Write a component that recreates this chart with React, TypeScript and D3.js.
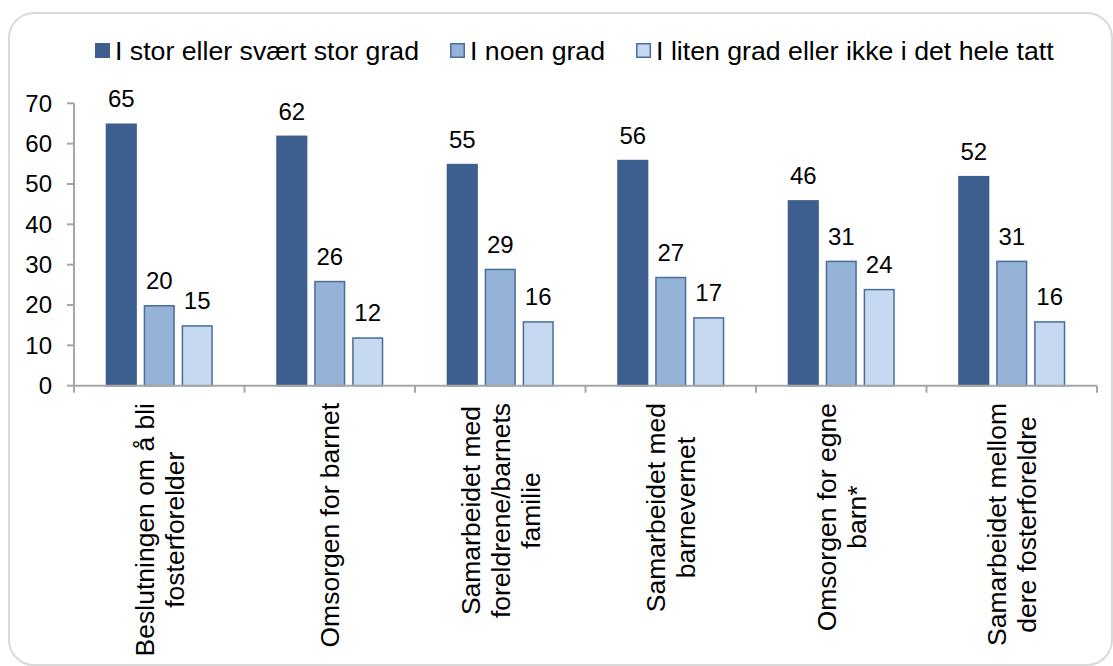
import React from "react";
import * as d3 from "d3";

const categories: string[][] = [
  ["Beslutningen om å bli", "fosterforelder"],
  ["Omsorgen for barnet"],
  ["Samarbeidet med", "foreldrene/barnets", "familie"],
  ["Samarbeidet med", "barnevernet"],
  ["Omsorgen for egne", "barn*"],
  ["Samarbeidet mellom", "dere fosterforeldre"],
];
const seriesNames = [
  "I stor eller svært stor grad",
  "I noen grad",
  "I liten grad eller ikke i det hele tatt",
];
const storGrad = [65, 62, 55, 56, 46, 52];
const noenGrad = [20, 26, 29, 27, 31, 31];
const litenGrad = [15, 12, 16, 17, 24, 16];
const yTicks = [0, 10, 20, 30, 40, 50, 60, 70];

const seriesValues = [storGrad, noenGrad, litenGrad];
const fills = ["#3d5f8f", "#95b3d7", "#c6d9f0"];
const strokes = ["#3d5f8f", "#4a6d9c", "#4a6d9c"];

const W = 1113;
const H = 666;
const FONT = "'Liberation Sans', Arial, sans-serif";

let ctx: CanvasRenderingContext2D | null = null;
function measure(text: string, size: number): number {
  if (!ctx) ctx = document.createElement("canvas").getContext("2d");
  if (!ctx) return text.length * size * 0.5;
  ctx.font = `${size}px 'Liberation Sans', Arial, sans-serif`;
  return ctx.measureText(text).width;
}

export default function App() {
  const left = 74;
  const right = 1097;
  const y0 = 385.7;
  const y70 = 103.3;
  const keys = categories.map((c) => c.join(" "));
  const x0 = d3.scaleBand<string>().domain(keys).range([left, right]).padding(0);
  const groupW = x0.bandwidth() * 0.628;
  const x1 = d3
    .scaleBand<number>()
    .domain([0, 1, 2])
    .range([0, groupW])
    .paddingInner(0.18)
    .paddingOuter(0);
  const y = d3.scaleLinear().domain([0, 70]).range([y0, y70]);

  const legendFont = 26.7;
  const legendItems: { x: number; tx: number; name: string; i: number }[] = [];
  let lx = 95;
  seriesNames.forEach((name, i) => {
    legendItems.push({ x: lx, tx: lx + 20, name, i });
    lx += 20 + measure(name, legendFont) + 31;
  });

  const catFont = 26.5;
  const lineGap = 30;
  const labelTop = 403;

  return (
    <svg
      width={W}
      height={H}
      style={{ position: "absolute", left: 0, top: 0, fontFamily: FONT }}
    >
      <rect x={0} y={0} width={W} height={H} fill="#ffffff" />
      <rect
        x={9}
        y={13}
        width={1103}
        height={652}
        rx={25}
        ry={25}
        fill="#ffffff"
        stroke="#d9d9d9"
        strokeWidth={2}
      />
      {/* legend */}
      {legendItems.map((it) => (
        <g key={it.name}>
          <rect
            x={it.x + 0.75}
            y={43.75}
            width={13.5}
            height={13.5}
            fill={fills[it.i]}
            stroke={strokes[it.i]}
            strokeWidth={1.5}
          />
          <text x={it.tx} y={60} fontSize={legendFont} fill="#000">
            {it.name}
          </text>
        </g>
      ))}
      {/* bars */}
      {keys.map((k, ci) => {
        const gx = x0(k)! + (x0.bandwidth() - groupW) / 2;
        return (
          <g key={k}>
            {seriesValues.map((vals, si) => {
              const bx = gx + x1(si)!;
              const bw = x1.bandwidth();
              const v = vals[ci];
              return (
                <g key={si}>
                  <rect
                    x={bx + 0.75}
                    y={y(v) + 0.75}
                    width={bw - 1.5}
                    height={y0 - y(v) - 0.75}
                    fill={fills[si]}
                    stroke={strokes[si]}
                    strokeWidth={1.5}
                  />
                  <text
                    x={bx + bw / 2}
                    y={y(v) - 16}
                    fontSize={24}
                    textAnchor="middle"
                    fill="#000"
                  >
                    {v}
                  </text>
                </g>
              );
            })}
          </g>
        );
      })}
      {/* y axis */}
      <line x1={left} x2={left} y1={y70} y2={y0} stroke="#a6a6a6" strokeWidth={2} />
      {yTicks.map((t) => (
        <g key={t}>
          <line x1={left - 7} x2={left} y1={y(t)} y2={y(t)} stroke="#a6a6a6" strokeWidth={2} />
          <text
            x={52}
            y={y(t)}
            dy="0.35em"
            fontSize={24}
            textAnchor="end"
            fill="#000"
          >
            {t}
          </text>
        </g>
      ))}
      {/* x axis */}
      <line x1={left} x2={right} y1={y0} y2={y0} stroke="#a6a6a6" strokeWidth={2} />
      {[...keys.map((k) => x0(k)!), right].map((tx, i) => (
        <line key={i} x1={tx} x2={tx} y1={y0} y2={y0 + 7} stroke="#a6a6a6" strokeWidth={2} />
      ))}
      {/* category labels */}
      {categories.map((lines, ci) => {
        const cx = x0(keys[ci])! + x0.bandwidth() / 2;
        const maxW = Math.max(...lines.map((l) => measure(l, catFont)));
        const cy = labelTop + maxW / 2;
        const n = lines.length;
        return (
          <g key={ci}>
            {lines.map((l, li) => {
              const lxp = cx + (li - (n - 1) / 2) * lineGap;
              return (
                <text
                  key={li}
                  transform={`translate(${lxp},${cy}) rotate(-90)`}
                  dy="0.35em"
                  fontSize={catFont}
                  textAnchor="middle"
                  fill="#000"
                >
                  {l}
                </text>
              );
            })}
          </g>
        );
      })}
    </svg>
  );
}
